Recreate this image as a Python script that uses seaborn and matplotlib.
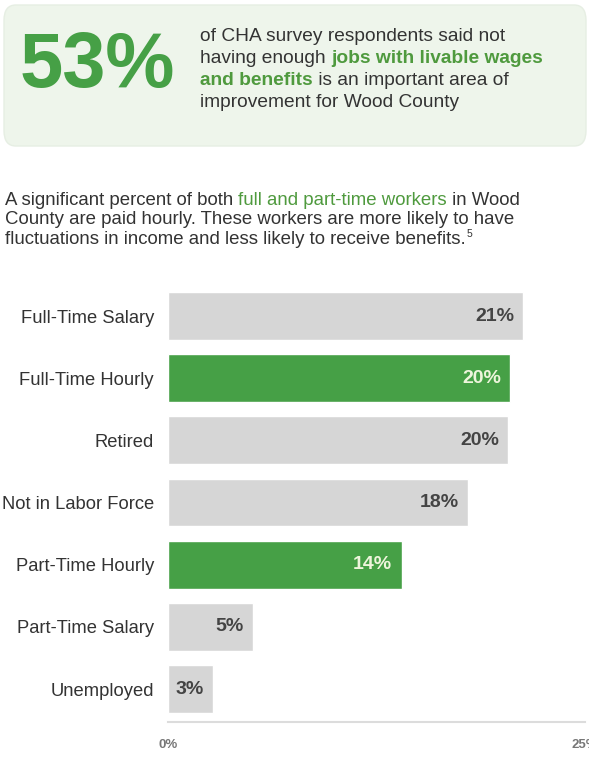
import matplotlib
matplotlib.use("Agg")
import matplotlib.pyplot as plt
import seaborn as sns
import pandas as pd
from matplotlib.patches import FancyBboxPatch

categories = ["Full-Time Salary", "Full-Time Hourly", "Retired", "Not in Labor Force",
              "Part-Time Hourly", "Part-Time Salary", "Unemployed"]
values = [21.3, 20.5, 20.4, 18.0, 14.0, 5.1, 2.7]
value_labels = ["21%", "20%", "20%", "18%", "14%", "5%", "3%"]
highlight = [False, True, False, False, True, False, False]
xticks = [0, 25]
xtick_labels = ["0%", "25%"]

GREEN = "#46a046"
GRAY = "#d6d6d6"
TEXT = "#333333"
TGREEN = "#4f9a3e"

sns.set_theme(style="white")
plt.rcParams["font.family"] = ["Liberation Sans", "DejaVu Sans"]

W, H = 589, 768
fig = plt.figure(figsize=(W / 100, H / 100), dpi=100)
fig.patch.set_facecolor("white")

# top callout box
box = FancyBboxPatch((4 / W, 1 - 146 / H), 582 / W, 141 / H,
                     boxstyle="round,pad=0,rounding_size=0.02",
                     transform=fig.transFigure, facecolor="#eef5eb",
                     edgecolor="#e6eee3", linewidth=1, zorder=0)
fig.patches.append(box)

fig.text(20 / W, 1 - 67 / H, "53%", fontsize=56, fontweight="bold", color=GREEN,
         va="center", ha="left")

renderer = fig.canvas.get_renderer()


def rich_line(x_px, y_px, parts, size):
    x = x_px
    for txt, col, bold in parts:
        t = fig.text(x / W, 1 - y_px / H, txt, fontsize=size, color=col,
                     fontweight="bold" if bold else "normal", va="baseline", ha="left")
        bb = t.get_window_extent(renderer=renderer)
        x = bb.x1
    return x


box_lines = [
    [("of CHA survey respondents said not", TEXT, False)],
    [("having enough ", TEXT, False), ("jobs with livable wages", TGREEN, True)],
    [("and benefits", TGREEN, True), (" is an important area of", TEXT, False)],
    [("improvement for Wood County", TEXT, False)],
]
for i, parts in enumerate(box_lines):
    rich_line(200, 41 + i * 22, parts, 13.8)

para_lines = [
    [("A significant percent of both ", TEXT, False),
     ("full and part-time workers", TGREEN, False), (" in Wood", TEXT, False)],
    [("County are paid hourly. These workers are more likely to have", TEXT, False)],
    [("fluctuations in income and less likely to receive benefits.", TEXT, False)],
]
for i, parts in enumerate(para_lines):
    xe = rich_line(5, 205 + i * 19.5, parts, 13.4)
fig.text(xe / W + 1 / W, 1 - 237 / H, "5", fontsize=7.5, color=TEXT, va="baseline", ha="left")

# bar chart
ax = fig.add_axes([168 / W, (H - 722) / H, 417 / W, 437 / H])
df = pd.DataFrame({"category": categories, "value": values})
colors = [GREEN if h else GRAY for h in highlight]
sns.barplot(data=df, x="value", y="category", hue="category", palette=colors,
            width=0.77, legend=False, ax=ax, saturation=1)
ax.set_xlim(0, 25)
ax.set_ylim(6.53, -0.5)
ax.set_xlabel("")
ax.set_ylabel("")
for s in ["top", "right", "left"]:
    ax.spines[s].set_visible(False)
ax.spines["bottom"].set_color("#dcdcdc")
ax.spines["bottom"].set_linewidth(1.5)
ax.set_xticks(xticks)
ax.set_xticklabels(xtick_labels, fontsize=9.5, color="#777777", fontweight="bold")
ax.tick_params(axis="x", length=0, pad=12)
ax.tick_params(axis="y", length=0, pad=10, labelsize=13.2, labelcolor=TEXT)
ax.set_facecolor("none")

for i, (v, lab, h) in enumerate(zip(values, value_labels, highlight)):
    ax.text(v - 0.55, i, lab, ha="right", va="center", fontsize=14, fontweight="bold",
            color="#eef5dc" if h else "#444444")

fig.savefig("out.png", dpi=100)
